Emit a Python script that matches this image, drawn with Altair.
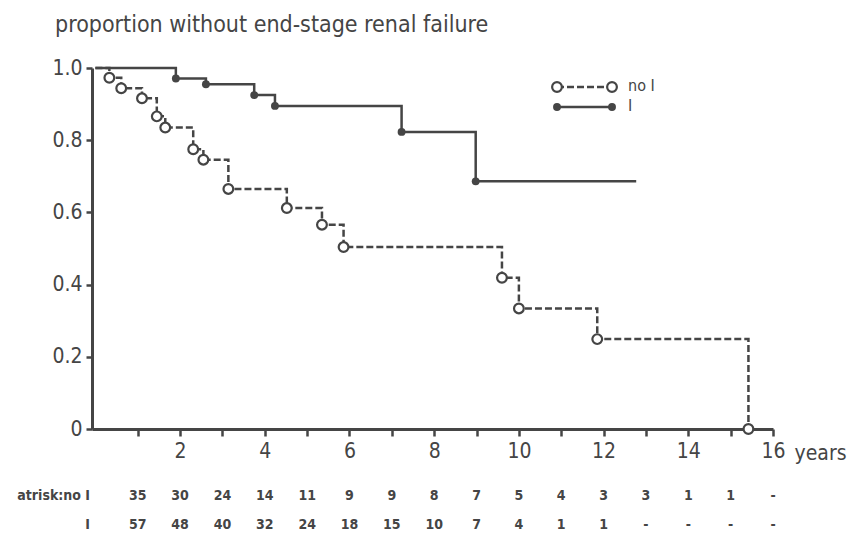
import altair as alt
import pandas as pd

# ---- data ----
noI_time = [0.0, 0.33, 0.61, 1.10, 1.45, 1.65, 2.31, 2.55, 3.14, 4.52, 5.35, 5.86, 9.60, 10.00, 11.85, 15.42]
noI_surv = [1.0, 0.973, 0.944, 0.916, 0.866, 0.835, 0.775, 0.746, 0.665, 0.612, 0.566, 0.504, 0.419, 0.334, 0.249, 0.0]
I_time = [0.0, 1.90, 2.61, 3.75, 4.24, 7.23, 8.98, 12.77]
I_surv = [1.0, 0.971, 0.955, 0.925, 0.895, 0.823, 0.686, 0.686]

risk_years = list(range(1, 17))
risk_noI = ["35", "30", "24", "14", "11", "9", "9", "8", "7", "5", "4", "3", "3", "1", "1", "-"]
risk_I = ["57", "48", "40", "32", "24", "18", "15", "10", "7", "4", "1", "1", "-", "-", "-", "-"]

x_ticks = list(range(1, 17))
y_ticks = [0, 0.2, 0.4, 0.6, 0.8, 1.0]

title_text = "proportion without end-stage renal failure"

# ---- style ----
INK = "#454545"
FONT = "DejaVu Sans Condensed, DejaVu Sans"
W, H = 681, 361

df_noI = pd.DataFrame({"t": noI_time, "s": noI_surv})
df_I = pd.DataFrame({"t": I_time, "s": I_surv})
# markers at the event times (bottom of each drop)
df_noI_pts = df_noI.iloc[1:]
df_I_pts = df_I.iloc[1:-1]

x_scale = alt.Scale(domain=[-0.08, 16], nice=False, zero=False)
y_scale = alt.Scale(domain=[0, 1], nice=False)

x_axis = alt.Axis(
    values=x_ticks,
    labelExpr="datum.value % 2 == 0 ? datum.label : ''",
    labelFlush=False, labelOverlap=False,
    grid=False, domainColor=INK, domainWidth=3, tickColor=INK, tickWidth=2.5,
    tickSize=7, labelFont=FONT, labelFontSize=21, labelColor=INK, labelPadding=4,
    title="years", titleFont=FONT, titleFontSize=21, titleFontWeight="normal",
    titleColor=INK, titleAlign="left", titleAnchor="start", titleX=702, titleY=30,
    titleBaseline="alphabetic",
)
y_axis = alt.Axis(
    values=y_ticks,
    labelExpr="datum.value == 0 ? '0' : format(datum.value, '.1f')",
    labelFlush=False,
    grid=False, domainColor=INK, domainWidth=3, tickColor=INK, tickWidth=2.5,
    tickSize=6, labelFont=FONT, labelFontSize=21, labelColor=INK, labelPadding=4,
    title=None,
)

X = alt.X("t:Q", scale=x_scale, axis=x_axis)
Y = alt.Y("s:Q", scale=y_scale, axis=y_axis)

line_noI = alt.Chart(df_noI).mark_line(
    interpolate="step-after", color=INK, strokeWidth=2.5, strokeDash=[7, 3]
).encode(x=X, y=Y)
line_I = alt.Chart(df_I).mark_line(
    interpolate="step-after", color=INK, strokeWidth=2.5
).encode(x=X, y=Y)
pts_noI = alt.Chart(df_noI_pts).mark_point(
    shape="circle", size=95, filled=True, fill="white", stroke=INK, strokeWidth=2.2, opacity=1
).encode(x=X, y=Y)
pts_I = alt.Chart(df_I_pts).mark_point(
    shape="circle", size=62, filled=True, color=INK, opacity=1
).encode(x=X, y=Y)

# ---- legend (pixel positions inside the plot) ----
leg_lines = pd.DataFrame({"x1": [465, 465], "x2": [520, 520], "y": [19, 39], "g": ["no I", "I"]})
leg_pts = pd.DataFrame({"x": [465, 520, 465, 520], "y": [19, 19, 39, 39], "g": ["no I", "no I", "I", "I"]})
leg_text = pd.DataFrame({"x": [536, 536], "y": [18, 38], "g": ["no I", "I"]})

leg_l_noI = alt.Chart(leg_lines[leg_lines.g == "no I"]).mark_rule(
    color=INK, strokeWidth=2.5, strokeDash=[7, 3]
).encode(x=alt.X("x1:Q", scale=None), x2="x2:Q", y=alt.Y("y:Q", scale=None))
leg_l_I = alt.Chart(leg_lines[leg_lines.g == "I"]).mark_rule(
    color=INK, strokeWidth=2.5
).encode(x=alt.X("x1:Q", scale=None), x2="x2:Q", y=alt.Y("y:Q", scale=None))
leg_p_noI = alt.Chart(leg_pts[leg_pts.g == "no I"]).mark_point(
    shape="circle", size=95, filled=True, fill="white", stroke=INK, strokeWidth=2.2, opacity=1
).encode(x=alt.X("x:Q", scale=None), y=alt.Y("y:Q", scale=None))
leg_p_I = alt.Chart(leg_pts[leg_pts.g == "I"]).mark_point(
    shape="circle", size=62, filled=True, color=INK, opacity=1
).encode(x=alt.X("x:Q", scale=None), y=alt.Y("y:Q", scale=None))
leg_t = alt.Chart(leg_text).mark_text(
    align="left", baseline="middle", font=FONT, fontSize=16, color=INK
).encode(x=alt.X("x:Q", scale=None), y=alt.Y("y:Q", scale=None), text="g:N")

# ---- at-risk table ----
df_r1 = pd.DataFrame({"t": risk_years, "n": risk_noI})
df_r2 = pd.DataFrame({"t": risk_years, "n": risk_I})
r1 = alt.Chart(df_r1).mark_text(
    baseline="middle", font=FONT, fontSize=14, fontWeight="bold", color=INK
).encode(x=X, y=alt.value(H + 67), text="n:N")
r2 = alt.Chart(df_r2).mark_text(
    baseline="middle", font=FONT, fontSize=14, fontWeight="bold", color=INK
).encode(x=X, y=alt.value(H + 96), text="n:N")
row_labels = pd.DataFrame({"lab": ["atrisk:no I", "I"], "y": [H + 67, H + 96]})
rl = alt.Chart(row_labels).mark_text(
    align="right", baseline="middle", font=FONT, fontSize=14, fontWeight="bold", color=INK
).encode(x=alt.value(-2), y=alt.Y("y:Q", scale=None), text="lab:N")

# ---- title ----
title_df = pd.DataFrame({"lab": [title_text]})
ttl = alt.Chart(title_df).mark_text(
    align="left", baseline="alphabetic", font=FONT, fontSize=23, color=INK
).encode(x=alt.value(-37), y=alt.value(-36), text="lab:N")

chart = alt.layer(
    line_noI, line_I, pts_noI, pts_I,
    leg_l_noI, leg_l_I, leg_p_noI, leg_p_I, leg_t,
    r1, r2, rl, ttl,
).resolve_scale(x="shared", y="shared").properties(
    width=W, height=H,
    autosize=alt.AutoSizeParams(type="none"),
    padding={"left": 92, "top": 68, "right": 853 - 92 - W, "bottom": 538 - 68 - H},
    background="white",
).configure_view(stroke=None)

chart.save("out.html", embed_options={"renderer": "svg", "actions": False})
